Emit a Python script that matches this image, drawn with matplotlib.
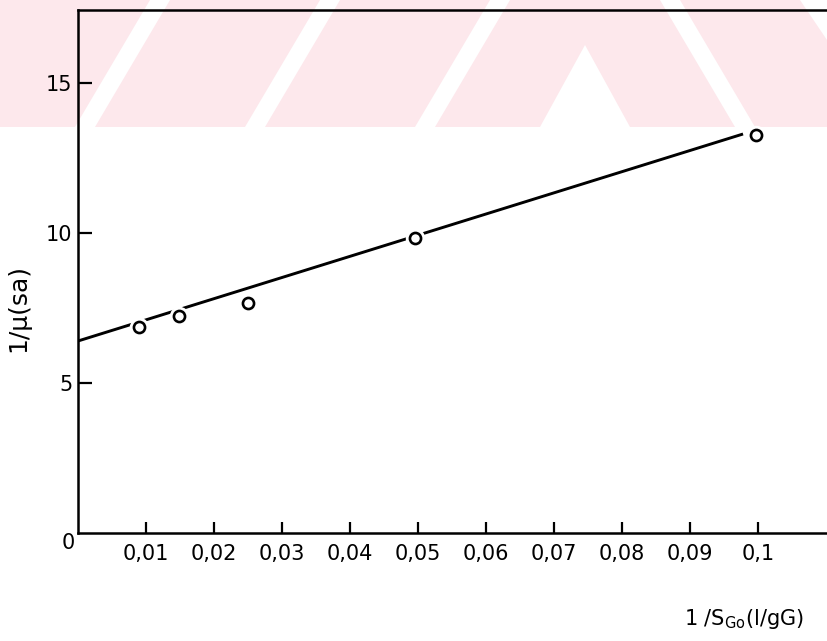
import matplotlib
matplotlib.use("Agg")
import matplotlib.pyplot as plt
from matplotlib.patches import Polygon

# measured points
x_pts = [0.009, 0.0148, 0.025, 0.0496, 0.0997]
y_pts = [6.88, 7.23, 7.68, 9.84, 13.27]

# fitted straight line (ends)
fit_x = [0.0, 0.0978]
fit_y = [6.40, 13.30]

x_ticks = [0.01, 0.02, 0.03, 0.04, 0.05, 0.06, 0.07, 0.08, 0.09, 0.1]
x_labels = ['0,01', '0,02', '0,03', '0,04', '0,05', '0,06', '0,07', '0,08', '0,09', '0,1']
y_ticks = [5, 10, 15]
y_labels = ['5', '10', '15']

plt.rcParams['font.family'] = ['DejaVu Sans']

W, H = 827, 641
fig = plt.figure(figsize=(W / 100, H / 100), dpi=100)
fig.patch.set_facecolor('white')

# faint pink watermark band at the top (pixel coords, y downwards)
pink = '#fde8ec'
band = 127
shapes = [
    [(0, band), (75, band), (150, 0), (0, 0)],
    [(95, band), (245, band), (320, 0), (170, 0)],
    [(265, band), (415, band), (490, 0), (340, 0)],
    [(435, band), (540, band), (585, 45), (630, band), (735, band), (660, 0), (510, 0)],
    [(755, band), (827, band), (827, 40), (800, 0), (680, 0)],
]
for s in shapes:
    pts = [(px / W, 1 - py / H) for px, py in s]
    fig.patches.append(Polygon(pts, closed=True, transform=fig.transFigure,
                               facecolor=pink, edgecolor='none', zorder=-5))

ax = fig.add_axes([78 / W, 1 - 533 / H, (W - 78) / W, (533 - 10) / H])
ax.set_zorder(2)
ax.patch.set_alpha(0)

ax.plot(fit_x, fit_y, color='black', lw=2.1, solid_capstyle='butt', zorder=1)
ax.plot(x_pts, y_pts, linestyle='none', marker='o', ms=14,
        markerfacecolor='white', markeredgecolor='none', zorder=2)
ax.plot(x_pts, y_pts, linestyle='none', marker='o', ms=8,
        markerfacecolor='white', markeredgecolor='black', mew=1.9, zorder=3)

ax.set_xlim(0, (W - 78) / 6800)
ax.set_ylim(0, (533 - 10) / 30)

ax.spines['right'].set_visible(False)
for sp in ['left', 'bottom', 'top']:
    ax.spines[sp].set_linewidth(1.8)

ax.set_xticks(x_ticks)
ax.set_xticklabels(x_labels)
ax.set_yticks(y_ticks)
ax.set_yticklabels(y_labels)
ax.tick_params(axis='both', direction='in', length=8, width=1.6,
               labelsize=15, pad=8)
ax.tick_params(axis='y', length=10, pad=4)

ax.annotate('0', (0, 0), xytext=(-10, -10), textcoords='offset pixels',
            ha='center', va='center', fontsize=15, annotation_clip=False)

ax.set_ylabel('1/μ(sa)', fontsize=18)
ax.yaxis.set_label_coords(-0.064, 0.43)
ax.text(0.97, -0.165, r'1 /S$_{\mathregular{Go}}$(l/gG)', transform=ax.transAxes,
        ha='right', va='center', fontsize=15)

fig.savefig('out.png', dpi=100)
